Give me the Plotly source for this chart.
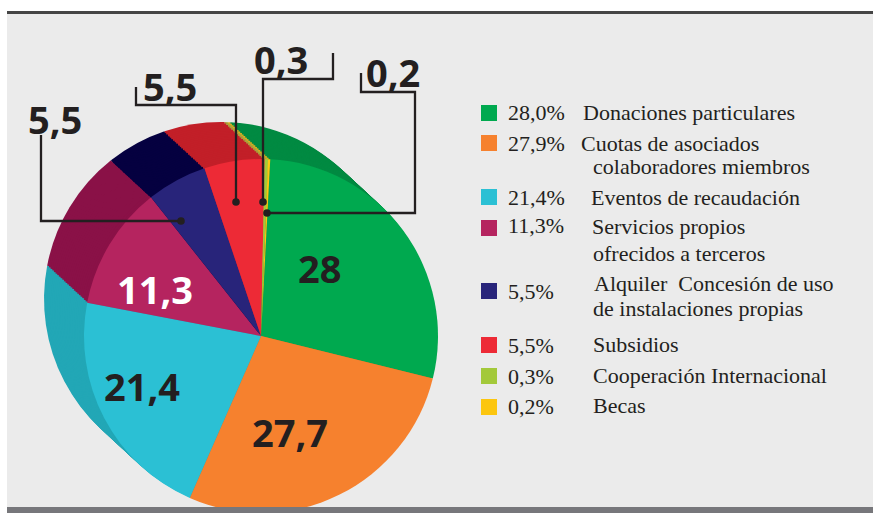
import plotly.graph_objects as go

# ---------------- data ----------------
values = [28, 27.7, 21.4, 11.3, 5.5, 5.5, 0.3, 0.2]
slice_labels = ["28", "27,7", "21,4", "11,3", "5,5", "5,5", "0,3", "0,2"]
legend_pct = ["28,0%", "27,9%", "21,4%", "11,3%", "5,5%", "5,5%", "0,3%", "0,2%"]
category_lines = [
    ["Donaciones particulares"],
    ["Cuotas de asociados", "colaboradores miembros"],
    ["Eventos de recaudación"],
    ["Servicios propios", "ofrecidos a terceros"],
    ["Alquiler\u00a0 Concesión de uso", "de instalaciones propias"],
    ["Subsidios"],
    ["Cooperación Internacional"],
    ["Becas"],
]

# ---------------- styles ----------------
front_colors = ["#00a94f", "#f6812e", "#2bc0d4", "#b5245f", "#28247a", "#ed2a36", "#a3c93a", "#fcc60f"]
side_colors = ["#008a42", "#c86a25", "#22a7b6", "#8a1147", "#050040", "#c21f28", "#a8a13a", "#d8ae1f"]
TXT = "#231f20"

W, H = 873, 513
def px(x):
    return x / W
def py(y):
    return 1 - y / H

fig = go.Figure()

# pie geometry (page pixels)
CX, CY, R = 261, 336, 177
DX, DY = -40, -37
N = 24

def add_pie(cx, cy, colors):
    fig.add_trace(go.Pie(
        values=values,
        labels=[str(i) for i in range(len(values))],
        sort=False, direction="clockwise", rotation=3,
        marker=dict(colors=colors, line=dict(width=0)),
        textinfo="none", hoverinfo="skip", showlegend=False,
        domain=dict(x=[px(cx - R), px(cx + R)], y=[max(0, py(cy + R)), py(cy - R)]),
    ))

for k in range(N, 0, -1):
    t = k / N
    add_pie(CX + DX * t, CY + DY * t, side_colors)
add_pie(CX, CY, front_colors)

shapes = []
annotations = []

# frame
shapes.append(dict(type="rect", xref="paper", yref="paper", x0=0, x1=px(7), y0=0, y1=1,
                   fillcolor="white", line=dict(width=0), layer="above"))
shapes.append(dict(type="rect", xref="paper", yref="paper", x0=0, x1=1, y0=py(11), y1=1,
                   fillcolor="white", line=dict(width=0), layer="above"))
shapes.append(dict(type="rect", xref="paper", yref="paper", x0=px(7), x1=1, y0=py(14), y1=py(11),
                   fillcolor="#454545", line=dict(width=0), layer="above"))
shapes.append(dict(type="rect", xref="paper", yref="paper", x0=px(7), x1=1, y0=0, y1=py(507),
                   fillcolor="#77777b", line=dict(width=0), layer="above"))

# big slice labels
label_pos = [(319, 268), (290, 432), (142, 386), (155, 289)]
label_col = [TXT, TXT, TXT, "white"]
for i, (x, y) in enumerate(label_pos):
    annotations.append(dict(x=px(x), y=py(y), xref="paper", yref="paper", text=slice_labels[i],
                            showarrow=False, xanchor="center", yanchor="middle",
                            font=dict(family="Open Sans", size=38, color=label_col[i], weight="bold")))

# callouts for small slices
callouts = [
    (4, (55, 119), "M 41 135 V 221 H 181", (181, 221)),
    (5, (170, 86), "M 136 87 V 105 H 236 V 202", (236, 202)),
    (6, (281, 59), "M 333 53 V 79 H 263 V 202", (263, 202)),
    (7, (393, 72), "M 361 73 V 92 H 415 V 213 H 267", (267, 213)),
]
def path_px(p):
    out = []
    toks = p.split()
    i = 0
    curx = cury = 0
    while i < len(toks):
        c = toks[i]
        if c in ("M", "L"):
            curx, cury = float(toks[i + 1]), float(toks[i + 2]); i += 3
        elif c == "H":
            curx = float(toks[i + 1]); i += 2
        elif c == "V":
            cury = float(toks[i + 1]); i += 2
        out.append(("M" if c == "M" else "L") + f" {px(curx):.5f} {py(cury):.5f}")
    return " ".join(out)

for idx, (lx, ly), p, (dx_, dy_) in callouts:
    shapes.append(dict(type="path", xref="paper", yref="paper", path=path_px(p),
                       line=dict(color=TXT, width=2.3), layer="above"))
    rr = 3.8
    shapes.append(dict(type="circle", xref="paper", yref="paper",
                       x0=px(dx_ - rr), x1=px(dx_ + rr), y0=py(dy_ + rr), y1=py(dy_ - rr),
                       fillcolor=TXT, line=dict(width=0), layer="above"))
    annotations.append(dict(x=px(lx), y=py(ly), xref="paper", yref="paper", text=slice_labels[idx],
                            showarrow=False, xanchor="center", yanchor="middle",
                            font=dict(family="Open Sans", size=38, color=TXT, weight="bold")))

# custom legend
sq_y = [113, 143, 197, 228, 291, 345, 376, 407]
pct_y = [112, 143.5, 197, 225, 291, 345, 376, 406]
desc_pos = [
    [(581, 112)],
    [(579, 143.5), (591, 166)],
    [(589, 197)],
    [(590, 226), (591, 253)],
    [(592, 283.5), (591, 308.5)],
    [(591, 344)],
    [(591, 375)],
    [(591, 405)],
]
LF = dict(family="Liberation Serif", size=22, color=TXT)
for i in range(len(values)):
    shapes.append(dict(type="rect", xref="paper", yref="paper",
                       x0=px(481), x1=px(497), y0=py(sq_y[i] + 8), y1=py(sq_y[i] - 8),
                       fillcolor=front_colors[i], line=dict(width=0), layer="above"))
    annotations.append(dict(x=px(506), y=py(pct_y[i]), xref="paper", yref="paper", text=legend_pct[i],
                            showarrow=False, xanchor="left", yanchor="middle", font=LF))
    for line, (x, y) in zip(category_lines[i], desc_pos[i]):
        annotations.append(dict(x=px(x), y=py(y), xref="paper", yref="paper", text=line,
                                showarrow=False, xanchor="left", yanchor="middle", font=LF))

fig.update_layout(
    width=W, height=H, autosize=False,
    margin=dict(l=0, r=0, t=0, b=0),
    paper_bgcolor="#ebebeb", plot_bgcolor="#ebebeb",
    shapes=shapes, annotations=annotations,
    showlegend=False,
)
fig.write_html(
    "out.html",
    config={"displayModeBar": False},
    post_script="document.body.style.margin='0';document.body.style.overflow='hidden';",
)
